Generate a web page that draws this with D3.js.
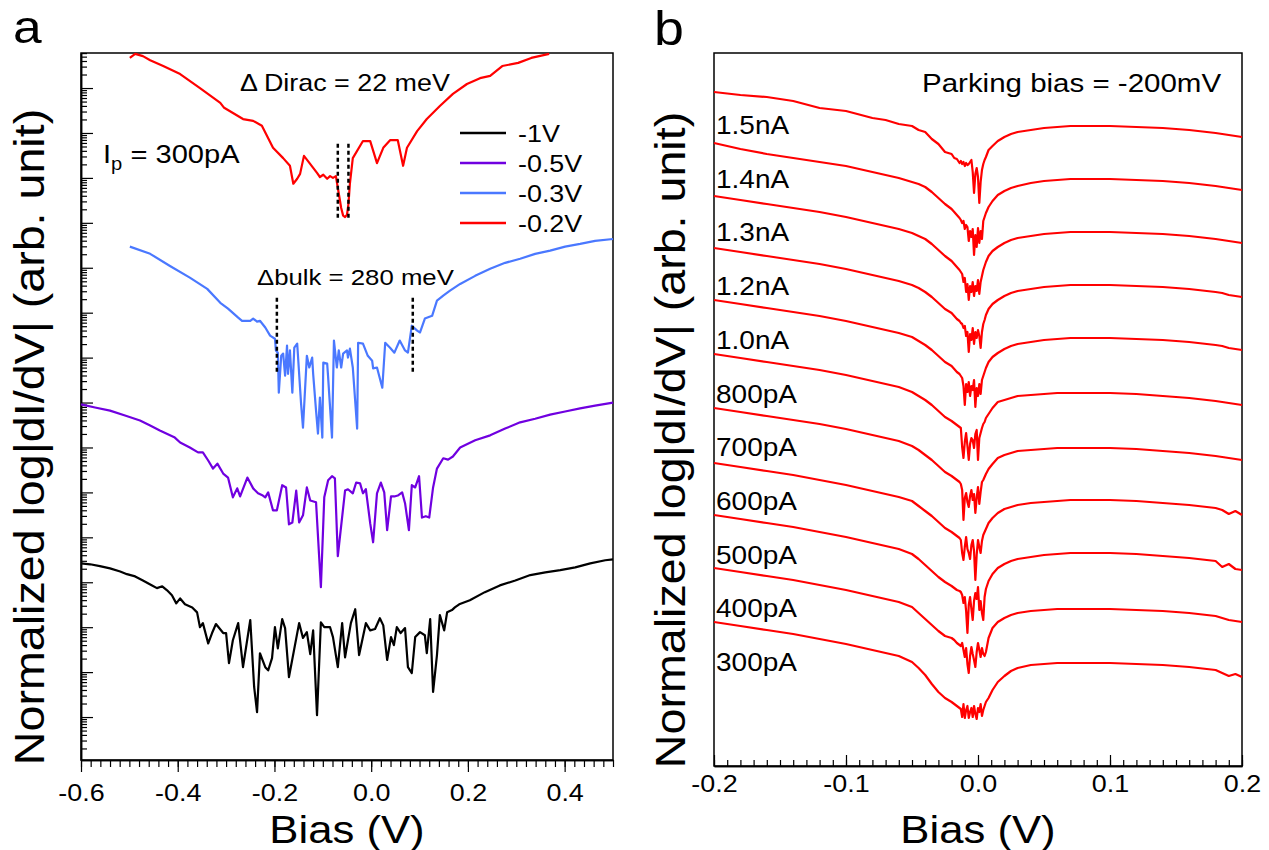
<!DOCTYPE html>
<meta charset="utf-8">
<script src="https://d3js.org/d3.v7.min.js"></script>
<style>
  body { margin: 0; background: #fff; }
</style>
<div id="chart"></div>
<script>

// ---------- panel a : log|dI/dV| (decades) vs bias (V) ----------
const legendA = ["-1V", "-0.5V", "-0.3V", "-0.2V"];
const colorsA = ["#000000", "#7000e0", "#4a78ff", "#ff0000"];

const curveM1V = [[-0.6,4.42],[-0.581,4.40],[-0.561,4.36],[-0.540,4.31],[-0.519,4.24],[-0.505,4.18],[-0.488,4.13],[-0.472,4.04],[-0.453,3.93],[-0.443,3.87],[-0.432,3.91],[-0.422,3.82],[-0.412,3.71],[-0.403,3.53],[-0.395,3.64],[-0.385,3.51],[-0.370,3.44],[-0.360,3.33],[-0.354,3.00],[-0.348,3.09],[-0.337,2.64],[-0.329,2.87],[-0.321,3.07],[-0.306,2.87],[-0.300,2.87],[-0.294,2.20],[-0.286,2.71],[-0.275,3.09],[-0.265,2.11],[-0.250,3.16],[-0.242,1.67],[-0.236,1.11],[-0.230,2.42],[-0.219,2.11],[-0.213,2.04],[-0.205,2.31],[-0.199,3.00],[-0.193,2.53],[-0.184,3.18],[-0.178,2.98],[-0.170,1.89],[-0.149,3.09],[-0.141,2.76],[-0.133,2.89],[-0.126,2.40],[-0.120,2.93],[-0.112,1.04],[-0.104,3.11],[-0.097,3.00],[-0.085,3.00],[-0.079,2.78],[-0.069,2.11],[-0.060,3.09],[-0.054,2.33],[-0.042,3.09],[-0.033,3.40],[-0.025,2.38],[-0.011,3.09],[-0.002,2.93],[0.008,2.96],[0.018,3.20],[0.025,3.04],[0.033,2.27],[0.041,2.78],[0.047,2.60],[0.053,3.00],[0.061,2.87],[0.070,2.98],[0.076,2.11],[0.084,1.98],[0.091,2.78],[0.101,2.89],[0.111,2.82],[0.115,2.42],[0.122,3.18],[0.128,1.56],[0.136,2.38],[0.142,3.27],[0.151,2.93],[0.157,3.33],[0.167,3.38],[0.173,3.44],[0.182,3.51],[0.204,3.60],[0.235,3.78],[0.266,3.93],[0.298,4.04],[0.329,4.16],[0.360,4.22],[0.391,4.27],[0.422,4.33],[0.453,4.42],[0.484,4.49],[0.5,4.51]];

const curveM05V = [[-0.6,7.96],[-0.571,7.89],[-0.540,7.82],[-0.509,7.71],[-0.478,7.60],[-0.457,7.49],[-0.437,7.38],[-0.406,7.22],[-0.395,7.11],[-0.375,7.00],[-0.358,6.89],[-0.348,6.89],[-0.337,6.71],[-0.327,6.53],[-0.318,6.64],[-0.306,6.42],[-0.296,6.33],[-0.286,5.89],[-0.277,6.09],[-0.271,5.91],[-0.256,6.33],[-0.244,6.09],[-0.234,5.98],[-0.224,5.93],[-0.219,5.89],[-0.213,6.00],[-0.203,5.60],[-0.195,5.60],[-0.184,6.16],[-0.176,6.11],[-0.170,5.29],[-0.163,5.33],[-0.155,6.04],[-0.149,5.33],[-0.141,5.49],[-0.133,6.11],[-0.126,5.82],[-0.114,5.78],[-0.104,3.89],[-0.097,5.89],[-0.089,6.27],[-0.081,6.36],[-0.075,6.31],[-0.069,4.58],[-0.054,6.04],[-0.048,6.07],[-0.038,5.98],[-0.031,6.22],[-0.023,6.20],[-0.017,5.98],[-0.011,6.07],[-0.002,5.31],[0.004,4.89],[0.012,5.98],[0.020,6.22],[0.027,6.00],[0.033,5.16],[0.041,5.91],[0.048,5.91],[0.055,5.93],[0.064,6.00],[0.070,5.76],[0.078,5.16],[0.084,6.16],[0.091,6.11],[0.099,6.36],[0.105,5.44],[0.113,5.47],[0.120,5.44],[0.128,6.11],[0.136,6.53],[0.149,6.76],[0.159,6.73],[0.169,6.80],[0.184,7.00],[0.215,7.16],[0.246,7.27],[0.277,7.42],[0.308,7.56],[0.339,7.64],[0.370,7.73],[0.401,7.80],[0.432,7.87],[0.463,7.93],[0.5,8.00]];

const curveM03V = [[-0.499,11.47],[-0.457,11.31],[-0.416,11.04],[-0.375,10.78],[-0.339,10.53],[-0.312,10.22],[-0.296,10.09],[-0.275,9.89],[-0.267,9.82],[-0.250,9.82],[-0.244,9.87],[-0.236,9.80],[-0.230,9.82],[-0.219,9.67],[-0.209,9.49],[-0.199,9.42],[-0.197,9.16],[-0.193,9.11],[-0.191,8.22],[-0.186,9.04],[-0.182,9.09],[-0.178,8.60],[-0.174,9.27],[-0.172,8.64],[-0.168,9.16],[-0.163,8.22],[-0.159,9.22],[-0.153,9.31],[-0.151,8.98],[-0.145,7.98],[-0.141,7.44],[-0.133,9.04],[-0.128,8.78],[-0.122,9.00],[-0.120,8.64],[-0.114,7.82],[-0.110,7.31],[-0.106,8.11],[-0.101,7.22],[-0.099,8.89],[-0.091,8.87],[-0.089,8.56],[-0.081,7.22],[-0.077,9.38],[-0.071,8.78],[-0.067,9.16],[-0.062,8.78],[-0.058,9.09],[-0.050,9.16],[-0.048,9.00],[-0.044,9.20],[-0.038,8.78],[-0.029,7.42],[-0.027,9.33],[-0.017,9.31],[-0.007,9.04],[0.002,8.93],[0.004,8.76],[0.012,8.78],[0.023,8.33],[0.029,9.33],[0.039,9.22],[0.048,9.11],[0.059,9.38],[0.070,9.16],[0.076,9.11],[0.084,9.71],[0.095,9.60],[0.101,9.56],[0.111,9.87],[0.126,9.93],[0.136,10.27],[0.149,10.38],[0.163,10.49],[0.184,10.64],[0.215,10.82],[0.246,10.98],[0.277,11.11],[0.308,11.20],[0.339,11.31],[0.370,11.38],[0.401,11.47],[0.432,11.53],[0.463,11.60],[0.5,11.64]];

const curveM02V = [[-0.499,15.67],[-0.488,15.76],[-0.472,15.71],[-0.457,15.62],[-0.430,15.49],[-0.395,15.31],[-0.354,15.00],[-0.312,14.67],[-0.304,14.56],[-0.265,14.31],[-0.244,14.27],[-0.226,14.16],[-0.203,13.67],[-0.182,13.44],[-0.168,13.27],[-0.161,12.87],[-0.153,12.98],[-0.147,13.09],[-0.139,13.49],[-0.131,13.38],[-0.112,13.11],[-0.106,13.02],[-0.099,13.07],[-0.091,12.98],[-0.085,13.04],[-0.079,13.00],[-0.073,13.04],[-0.069,12.78],[-0.062,12.33],[-0.058,12.16],[-0.054,12.13],[-0.050,12.18],[-0.047,12.42],[-0.044,12.87],[-0.038,13.44],[-0.017,13.82],[-0.002,13.82],[0.012,13.33],[0.025,13.67],[0.039,13.84],[0.055,13.84],[0.066,13.27],[0.074,13.67],[0.095,14.04],[0.115,14.31],[0.142,14.60],[0.169,14.87],[0.198,15.09],[0.225,15.22],[0.246,15.27],[0.271,15.49],[0.304,15.56],[0.331,15.67],[0.368,15.76]];

// gap markers [x1, x2] and their vertical extent (decades)
const diracGap = [-0.069, -0.047], diracSpan = [12.11, 13.76];
const bulkGap = [-0.195, 0.086], bulkSpan = [8.67, 10.33];

// ---------- panel b : dI/dV (arb.) vs bias, one curve per setpoint ----------
const setpointsB = ["1.5nA", "1.4nA", "1.3nA", "1.2nA", "1.0nA", "800pA", "700pA", "600pA", "500pA", "400pA", "300pA"];
// vertical offset added to each spectrum for clarity
const shiftB = [47.4, 42.3, 37.0, 31.8, 26.6, 21.2, 15.8, 10.3, 5.1, -0.2, -5.6];
const biasB = [-0.2,-0.18,-0.16,-0.14,-0.12,-0.1,-0.08,-0.07,-0.06,-0.05,
  -0.045,-0.04,-0.035,-0.03,-0.025,-0.02,-0.018,-0.016,-0.014,-0.013,
  -0.012,-0.011,-0.01,-0.009,-0.008,-0.007,-0.006,-0.005,-0.004,-0.003,
  -0.002,-0.001,0,0.001,0.002,0.003,0.004,0.005,0.006,0.008,
  0.011,0.015,0.02,0.025,0.03,0.04,0.05,0.06,0.07,0.08,
  0.1,0.12,0.14,0.16,0.18,0.185,0.19,0.195,0.2];
const didv1500pA = [20.0,19.7,19.5,19.1,18.4,18.1,17.4,17.2,16.8,16.6, 16.2,16.0,15.3,14.8,14.0,13.8,13.4,13.3,12.9,13.1, 12.8,13.0,12.6,12.9,12.7,12.8,13.0,13.2,12.0,9.9, 11.8,12.4,11.5,8.9,11.0,12.2,12.8,13.2,13.5,14.2, 14.6,15.1,15.5,15.8,16.0,16.2,16.4,16.5,16.6,16.6, 16.6,16.5,16.4,16.2,15.9,15.8,15.7,15.6,15.5];
const didv1400pA = [20.0,19.4,18.9,18.5,18.1,17.7,17.1,16.8,16.5,16.1, 15.9,15.6,15.1,14.5,13.9,13.4,13.1,12.8,12.5,12.3, 12.0,12.2,11.4,11.8,11.6,10.2,11.2,10.6,11.4,8.8, 10.8,9.6,11.5,10.0,11.2,10.4,12.2,12.6,13.0,13.6, 14.2,14.8,15.2,15.5,15.7,16.0,16.2,16.3,16.4,16.4, 16.4,16.3,16.2,16.0,15.7,15.6,15.5,15.4,15.3];
const didv1300pA = [20.0,19.6,19.2,18.8,18.4,17.9,17.3,17.0,16.7,16.3, 16.0,15.7,15.2,14.6,14.0,13.5,13.2,12.9,12.6,12.4, 12.2,11.4,11.8,10.4,11.2,9.6,11.0,10.4,11.4,10.0, 11.0,10.5,11.6,10.2,11.4,12.0,12.6,13.0,13.4,14.0, 14.5,14.9,15.3,15.6,15.8,16.0,16.2,16.3,16.4,16.4, 16.4,16.3,16.2,16.0,15.7,15.6,15.5,15.4,15.3];
const didv1200pA = [20.0,19.6,19.2,18.8,18.4,17.9,17.3,17.0,16.7,16.3, 16.0,15.6,15.1,14.5,13.9,13.5,13.2,12.9,12.7,12.5, 12.4,12.0,12.2,11.2,11.6,9.6,11.4,10.8,12.0,10.4, 11.6,11.0,11.8,11.2,10.0,11.6,12.4,12.8,13.3,13.9, 14.4,14.8,15.2,15.5,15.7,15.9,16.1,16.2,16.3,16.3, 16.3,16.2,16.1,15.9,15.6,15.5,15.3,15.2,15.1];
const didv1000pA = [20.0,19.6,19.2,18.8,18.4,17.9,17.3,17.0,16.7,16.3, 15.9,15.5,15.0,14.4,13.8,13.4,13.1,12.8,12.6,12.4, 12.2,11.4,9.5,11.6,10.8,11.8,10.4,11.4,11.0,12.0, 9.3,11.2,10.4,11.6,10.6,12.0,12.4,12.8,13.2,13.8, 14.3,14.7,15.1,15.4,15.6,15.8,16.0,16.1,16.2,16.2, 16.2,16.1,16.0,15.8,15.5,15.4,15.2,15.1,15.0];
const didv800pA = [20.0,19.6,19.2,18.8,18.4,17.9,17.3,17.0,16.7,16.2, 15.8,15.4,14.9,14.3,13.7,13.3,13.1,12.9,12.7,12.6, 10.7,9.6,11.2,12.1,10.8,9.4,11.0,11.6,11.4,10.6, 12.0,12.4,9.4,11.6,12.1,12.6,13.0,13.2,13.6,14.0, 14.6,15.2,15.4,15.6,15.8,15.9,16.0,16.1,16.1,16.1, 16.1,16.0,15.8,15.6,15.3,15.2,15.1,15.0,14.9];
const didv700pA = [20.0,19.6,19.2,18.8,18.4,17.9,17.3,17.0,16.7,16.2, 15.8,15.3,14.8,14.2,13.6,13.2,13.0,12.8,12.6,12.4, 11.8,8.8,11.0,11.5,10.6,10.1,11.2,11.8,10.8,11.4, 9.5,11.0,12.1,10.4,11.6,12.6,12.8,13.1,13.4,13.9, 14.4,15.0,15.3,15.5,15.7,15.8,15.9,16.0,16.0,16.0, 16.0,15.9,15.7,15.5,15.2,15.1,15.0,14.9,14.8];
const didv600pA = [20.0,19.6,19.2,18.8,18.3,17.8,17.2,16.9,16.6,16.2, 15.7,15.2,14.7,14.1,13.5,13.1,12.9,12.7,12.5,12.3, 11.0,10.3,11.6,12.6,11.4,11.0,10.4,11.8,12.3,11.2, 8.3,10.8,12.3,11.6,11.0,12.2,12.8,13.1,13.4,14.0, 14.5,15.0,15.4,15.6,15.8,16.0,16.1,16.2,16.3,16.3, 16.3,16.2,16.0,15.8,15.5,15.3,14.9,15.2,14.8];
const didv500pA = [20.0,19.6,19.2,18.8,18.3,17.8,17.2,16.9,16.6,16.1, 15.6,15.0,14.4,13.8,13.3,12.9,12.7,12.5,12.4,12.3, 12.0,11.2,11.8,10.4,8.2,11.0,11.8,10.6,9.5,11.4, 12.2,11.6,12.8,10.5,11.4,10.2,9.5,11.8,12.6,13.4, 14.1,14.7,15.1,15.4,15.6,15.8,16.0,16.1,16.2,16.2, 16.2,16.1,15.9,15.7,15.4,14.8,15.1,14.6,14.5];
const didv400pA = [20.0,19.6,19.2,18.8,18.3,17.8,17.2,16.9,16.6,16.1, 15.5,14.9,14.3,13.7,13.2,13.0,12.8,12.5,12.3,12.2, 12.5,11.8,11.1,12.0,10.4,9.5,11.2,12.1,11.4,10.8, 10.1,11.6,12.5,11.8,11.1,12.0,11.4,11.2,11.6,13.0, 14.0,14.6,15.0,15.3,15.5,15.7,15.8,15.9,15.9,15.9, 15.9,15.8,15.7,15.5,15.2,15.0,14.8,14.7,14.6];
const didv300pA = [20.0,19.6,19.2,18.8,18.3,17.8,17.2,16.9,16.6,16.0, 15.4,14.7,13.8,13.0,12.4,12.0,11.8,11.6,11.4,11.3, 10.5,11.8,10.4,11.2,11.6,10.4,11.0,11.4,10.5,11.6, 10.8,10.3,11.4,11.0,11.8,10.6,11.2,11.6,12.0,12.4, 13.2,14.0,14.6,15.1,15.4,15.7,15.8,15.9,15.9,15.9, 15.9,15.8,15.7,15.5,15.2,14.9,14.6,14.8,14.5];

// ---------- drawing ----------
const FONT = "'Liberation Sans', Arial, Helvetica, sans-serif";
const SX = 1.12;   // the figure's lettering is a little wider than Liberation Sans

const svg = d3.select("#chart").append("svg")
    .attr("width", 1269)
    .attr("height", 850)
    .style("background", "#fff");

function addText(x, y, str, size, opts = {}) {
  return svg.append("text")
    .attr("transform", `translate(${x},${y})${opts.rotate ? " rotate(-90)" : ""} scale(${opts.sx || SX},1)`)
    .attr("text-anchor", opts.anchor || "start")
    .style("font-family", FONT)
    .style("font-size", size + "px")
    .style("fill", "#000")
    .text(str);
}

const noMinus = f => (d => f(d).replace("\u2212", "-"));
const fmt1 = noMinus(d3.format(".1f"));

// ----- panel a -----
const ax = d3.scaleLinear().domain([-0.6, 0.5]).range([81, 613]);
const ay = d3.scaleLog().domain([Math.pow(10, 0.044), Math.pow(10, 15.78)]).range([760, 53]);
const [yLo, yHi] = ay.domain();

const majorYA = d3.range(0, 17).map(k => Math.pow(10, k)).filter(v => v >= yLo && v <= yHi);
const minorYA = [];
d3.range(0, 16).forEach(k => d3.range(2, 10).forEach(m => {
  const v = m * Math.pow(10, k);
  if (v >= yLo && v <= yHi) minorYA.push(v);
}));

const gA = svg.append("g");

// frame
gA.append("rect")
    .attr("x", ax.range()[0]).attr("y", ay.range()[1])
    .attr("width", ax.range()[1] - ax.range()[0])
    .attr("height", ay.range()[0] - ay.range()[1])
    .style("fill", "none").style("stroke", "#000").style("stroke-width", 1.5);

// y ticks point inward
gA.append("g").attr("transform", `translate(${ax.range()[0]},0)`)
    .call(d3.axisRight(ay).tickValues(minorYA).tickSize(6).tickSizeOuter(0).tickFormat(""));
gA.append("g").attr("transform", `translate(${ax.range()[0]},0)`)
    .call(d3.axisRight(ay).tickValues(majorYA).tickSize(12).tickSizeOuter(0).tickFormat(""));

// x ticks point outward
const minorXA = d3.range(0, 56).map(i => -0.6 + i * 0.02);
gA.append("g").attr("transform", `translate(0,${ay.range()[0]})`)
    .call(d3.axisBottom(ax).tickValues(minorXA).tickSize(7).tickSizeOuter(0).tickFormat(""));
gA.append("g").attr("transform", `translate(0,${ay.range()[0]})`)
    .call(d3.axisBottom(ax).tickValues([-0.6, -0.4, -0.2, 0, 0.2, 0.4]).tickSize(12).tickPadding(12)
      .tickSizeOuter(0).tickFormat(fmt1));

const lineA = d3.line().x(d => ax(d[0])).y(d => ay(Math.pow(10, d[1])));
const seriesA = [curveM1V, curveM05V, curveM03V, curveM02V];
seriesA.forEach((s, i) => {
  gA.append("path").datum(s)
    .attr("d", lineA)
    .style("fill", "none")
    .style("stroke", colorsA[i])
    .style("stroke-width", 2.2)
    .style("stroke-linejoin", "round");
});

// gap markers
[[diracGap, diracSpan], [bulkGap, bulkSpan]].forEach(([gap, span]) => {
  gap.forEach(x => {
    gA.append("line")
      .attr("x1", ax(x)).attr("x2", ax(x))
      .attr("y1", ay(Math.pow(10, span[1]))).attr("y2", ay(Math.pow(10, span[0])))
      .style("stroke", "#000").style("stroke-width", 2.5).style("stroke-dasharray", "4,3");
  });
});

// legend
legendA.forEach((lab, i) => {
  const y = 133 + i * 30;
  gA.append("line").attr("x1", 460).attr("x2", 506).attr("y1", y).attr("y2", y)
    .style("stroke", colorsA[i]).style("stroke-width", 2.5);
  addText(518, y + 9, lab, 24);
});

// ----- panel b -----
const bx = d3.scaleLinear().domain([-0.2, 0.2]).range([714, 1242]);
const by = d3.scaleLinear().domain([0, 71.3]).range([766, 53]);
const gB = svg.append("g");

gB.append("rect")
    .attr("x", bx.range()[0]).attr("y", by.range()[1])
    .attr("width", bx.range()[1] - bx.range()[0])
    .attr("height", by.range()[0] - by.range()[1])
    .style("fill", "none").style("stroke", "#000").style("stroke-width", 1.5);

const minorXB = d3.range(0, 41).map(i => -0.2 + i * 0.01);
gB.append("g").attr("transform", `translate(0,${by.range()[0]})`)
    .call(d3.axisBottom(bx).tickValues(minorXB).tickSize(-6).tickSizeOuter(0).tickFormat(""));
gB.append("g").attr("transform", `translate(0,${by.range()[0]})`)
    .call(d3.axisBottom(bx).tickValues([-0.2, -0.1, 0, 0.1, 0.2]).tickSize(-11).tickPadding(9)
      .tickSizeOuter(0).tickFormat(fmt1));

const seriesB = [didv1500pA, didv1400pA, didv1300pA, didv1200pA, didv1000pA, didv800pA,
                 didv700pA, didv600pA, didv500pA, didv400pA, didv300pA];
seriesB.forEach((s, k) => {
  const lineB = d3.line().x((d, i) => bx(biasB[i])).y(d => by(d + shiftB[k]));
  gB.append("path").datum(s)
    .attr("d", lineB)
    .style("fill", "none")
    .style("stroke", "#ff0000")
    .style("stroke-width", 2.2)
    .style("stroke-linejoin", "round");
});

// setpoint labels sit just under the left end of each curve
setpointsB.forEach((lab, i) => {
  addText(716, 134 + i * 53.7, lab, 25);
});

// axis styling shared by both panels
svg.selectAll(".domain").style("stroke", "#000").style("stroke-width", 1.5);
svg.selectAll(".tick line").style("stroke", "#000").style("stroke-width", 1.2);
svg.selectAll(".tick text")
    .style("font-family", FONT)
    .style("font-size", "24px")
    .style("fill", "#000")
    .attr("transform", `scale(${SX},1)`);

// ----- annotations & titles -----
addText(13, 43, "a", 46);
addText(654, 45, "b", 48);

addText(240, 91, "\u0394 Dirac = 22 meV", 24);
addText(257, 285, "\u0394bulk = 280 meV", 23);
addText(922, 92, "Parking bias = -200mV", 25, { sx: 1.18 });

const ip = addText(103, 163, "I", 26);
ip.append("tspan").attr("dy", 7).style("font-size", "18px").text("p");
ip.append("tspan").attr("dy", -7).text(" = 300pA");

addText(347, 843, "Bias (V)", 38, { anchor: "middle", sx: 1.15 });
addText(978, 843, "Bias (V)", 38, { anchor: "middle", sx: 1.15 });

addText(44, 437, "Normalized log|dI/dV| (arb. unit)", 42, { anchor: "middle", rotate: true, sx: 1.11 });
addText(685, 440, "Normalized log|dI/dV| (arb. unit)", 42, { anchor: "middle", rotate: true, sx: 1.11 });

</script>
